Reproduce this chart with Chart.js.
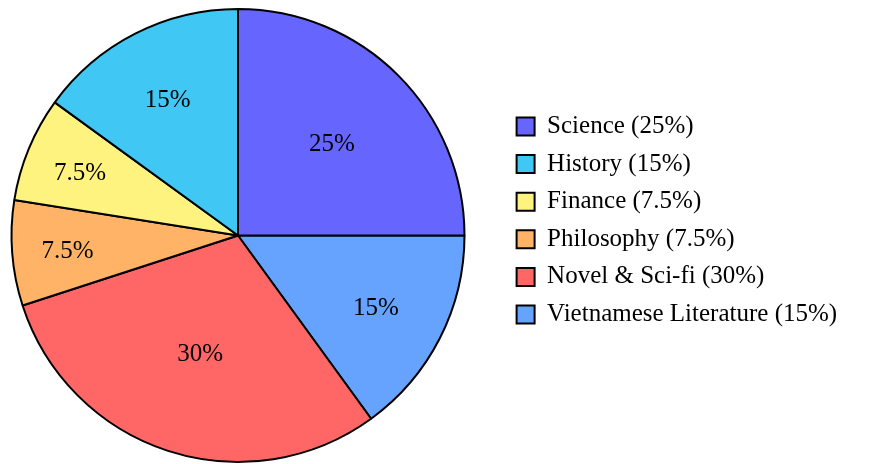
<html>
    <head>
        <meta charset="UTF-8" />
        <title>Book categories</title>
        <style type="text/css">
            html, body {
                margin: 0;
                padding: 0;
                background: #fff;
            }
            #wrap {
                position: relative;
                width: 886px;
                height: 464px;
            }
        </style>
    </head>
    <body>
        <div id="wrap">
            <canvas id="pieChart" aria-label="book pie chart" role="img"></canvas>
        </div>
        <script src="https://cdn.jsdelivr.net/npm/chart.js"></script>

        <script>
            // legend order (counter-clockwise from 3 o'clock in the picture)
            const categories = ['Science', 'History', 'Finance', 'Philosophy', 'Novel & Sci-fi', 'Vietnamese Literature'];
            const shares = [25, 15, 7.5, 7.5, 30, 15];
            const colors = ['#6666ff', '#41c7f3', '#fff380', '#ffb366', '#ff6666', '#66a3ff'];

            const FONT = "'Liberation Serif', 'Times New Roman', serif";
            const legendWidth = 382;

            // chart.js draws clockwise, so feed the slices reversed
            const labels = categories.slice().reverse();
            const data = shares.slice().reverse();
            const bg = colors.slice().reverse();

            const sliceLabels = {
                id: 'sliceLabels',
                afterDatasetsDraw(chart) {
                    const c = chart.ctx;
                    const meta = chart.getDatasetMeta(0);
                    const total = data.reduce((a, b) => a + b, 0);
                    c.save();
                    c.font = '25px ' + FONT;
                    c.fillStyle = '#000';
                    c.textAlign = 'center';
                    c.textBaseline = 'middle';
                    meta.data.forEach((arc, i) => {
                        const p = arc.getProps(['x', 'y', 'startAngle', 'endAngle', 'outerRadius'], true);
                        const mid = (p.startAngle + p.endAngle) / 2;
                        const frac = data[i] / total;
                        const r = p.outerRadius * (0.827 - 0.96 * frac);
                        c.fillText(data[i] + '%', p.x + Math.cos(mid) * r, p.y + Math.sin(mid) * r + 3);
                    });
                    c.restore();
                }
            };

            // fixed legend width, and pull the pie area a bit to the left
            const legendPlace = {
                id: 'legendPlace',
                beforeLayout(chart) {
                    const lg = chart.legend;
                    if (lg && !lg._fixed) {
                        const fit = lg.fit;
                        lg.fit = function () {
                            fit.call(this);
                            this.width = legendWidth;
                        };
                        lg._fixed = true;
                    }
                },
                afterLayout(chart) {
                    chart.legend.top -= 15;
                    chart.legend.bottom -= 15;
                    const ca = chart.chartArea;
                    ca.left -= 28;
                    ca.width = ca.right - ca.left;
                }
            };

            const ctx = document.getElementById('pieChart');

            let chartobj = new Chart(ctx, {
                type: 'pie',
                data: {
                    labels: labels,
                    datasets: [{
                        data: data,
                        backgroundColor: bg,
                        borderColor: '#000',
                        borderWidth: 2,
                    }]
                },
                options: {
                    responsive: true,
                    maintainAspectRatio: false,
                    animation: false,
                    rotation: 90,
                    layout: {
                        padding: { left: 0, right: 0, top: 8, bottom: 1 }
                    },
                    plugins: {
                        tooltip: { enabled: false },
                        legend: {
                            position: 'right',
                            reverse: true,
                            labels: {
                                color: '#000',
                                boxWidth: 18,
                                boxHeight: 18,
                                padding: 12.6,
                                font: { family: FONT, size: 25 },
                                generateLabels(chart) {
                                    const items = Chart.overrides.pie.plugins.legend.labels.generateLabels(chart);
                                    items.forEach(it => {
                                        it.text = labels[it.index] + ' (' + data[it.index] + '%)';
                                        it.strokeStyle = '#000';
                                        it.lineWidth = 2;
                                    });
                                    return items;
                                }
                            }
                        }
                    }
                },
                plugins: [sliceLabels, legendPlace]
            });
        </script>
    </body>
</html>
